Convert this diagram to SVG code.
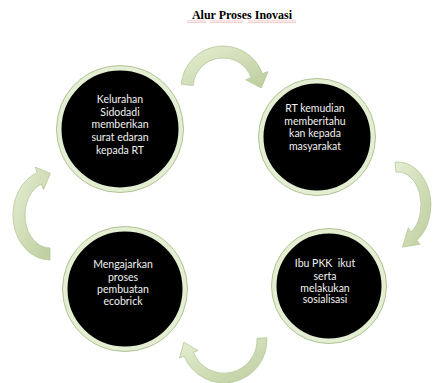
<svg xmlns="http://www.w3.org/2000/svg" width="433" height="383" viewBox="0 0 433 383">
<style>
.title{font-family:"Liberation Serif","Times New Roman",serif;font-size:12px;font-weight:bold;fill:#000}
.lbl{font-family:Lato,"Noto Sans",sans-serif;font-size:10.5px;fill:#f2f2f2;text-anchor:middle}
.disc{fill:#000;stroke:#e4eed2;stroke-width:5}
.rim{fill:none;stroke:#b3c297;stroke-width:1}
.arr{fill:url(#ag);stroke:#b5c69a;stroke-width:0.8}
</style>
<defs>
<linearGradient id="ag" x1="0" y1="0" x2="1" y2="1">
<stop offset="0" stop-color="#e6efd3"/>
<stop offset="1" stop-color="#bccd9d"/>
</linearGradient>
<pattern id="wave" width="3" height="2.4" patternUnits="userSpaceOnUse">
<polyline points="0,2 1.5,0.6 3,2" fill="none" stroke="#e06666" stroke-width="0.7"/>
</pattern>
</defs>
<rect width="433" height="383" fill="#fff"/>
<g id="title">
<text class="title" x="242" y="19" text-anchor="middle">Alur Proses Inovasi</text>
<rect x="187" y="20.5" width="19" height="2.4" fill="url(#wave)"/>
<rect x="210" y="20.5" width="33" height="2.4" fill="url(#wave)"/>
<rect x="248" y="20.5" width="48" height="2.4" fill="url(#wave)"/>
</g>
<g id="connectors">
<path class="arr" d="M181.2,84.3 A42,42 0 0 1 262.5,73.6 L268.1,71.6 L261.3,87.9 L245.6,79.8 L251.2,77.7 A30,30 0 0 0 193.1,85.4 Z"/>
<path class="arr" d="M395.1,162.2 A33,43 0 0 1 416.9,240.2 L419.8,244.3 L402.5,247.1 L408.3,227.9 L411.2,232 A23,33 0 0 0 396,172.1 Z"/>
<path class="arr" d="M266.9,337.7 A43,43 0 0 1 184.1,356.1 L179.5,358 L183.9,342.2 L198,350.5 L193.4,352.4 A33,33 0 0 0 257,338.3 Z"/>
<path class="arr" d="M50,260 A37,45 0 0 1 37.3,172.7 L35.3,167.1 L50.3,173.4 L43.5,189.6 L41.4,184 A25,33 0 0 0 50,248 Z"/>
</g>
<g id="node1">
<circle class="disc" cx="120" cy="129" r="61"/>
<circle class="rim" cx="120" cy="129" r="63.5"/>
<text class="lbl" x="120" y="102.5">Kelurahan</text>
<text class="lbl" x="120" y="115.5">Sidodadi</text>
<text class="lbl" x="120" y="128">memberikan</text>
<text class="lbl" x="120" y="141">surat edaran</text>
<text class="lbl" x="120" y="154">kepada RT</text>
</g>
<g id="node2">
<circle class="disc" cx="317" cy="137" r="56"/>
<circle class="rim" cx="317" cy="137" r="58.5"/>
<text class="lbl" x="315" y="111.5">RT kemudian</text>
<text class="lbl" x="315" y="124.5">memberitahu</text>
<text class="lbl" x="315" y="137">kan kepada</text>
<text class="lbl" x="315" y="150">masyarakat</text>
</g>
<g id="node3">
<circle class="disc" cx="125" cy="289" r="60"/>
<circle class="rim" cx="125" cy="289" r="62.5"/>
<text class="lbl" x="123" y="267.5">Mengajarkan</text>
<text class="lbl" x="123" y="280.5">proses</text>
<text class="lbl" x="123" y="292.5">pembuatan</text>
<text class="lbl" x="123" y="304.5">ecobrick</text>
</g>
<g id="node4">
<circle class="disc" cx="329" cy="286" r="55"/>
<circle class="rim" cx="329" cy="286" r="57.5"/>
<text class="lbl" x="325" y="266.5" xml:space="preserve">Ibu PKK  ikut</text>
<text class="lbl" x="325" y="279.5">serta</text>
<text class="lbl" x="325" y="291.5">melakukan</text>
<text class="lbl" x="325" y="302.5">sosialisasi</text>
</g>
</svg>
